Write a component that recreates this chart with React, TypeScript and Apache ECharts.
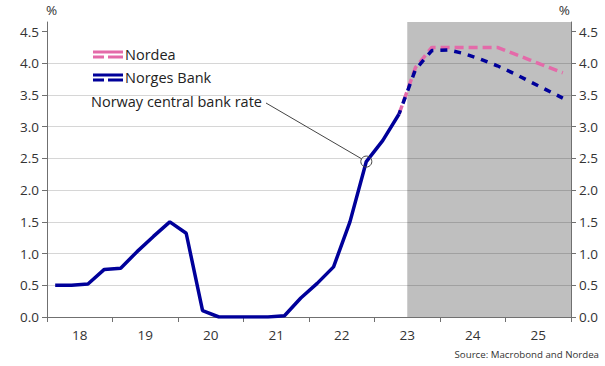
import React, { useEffect, useRef } from "react";
import * as echarts from "echarts";

const histQuarters = [
  "2018Q1", "2018Q2", "2018Q3", "2018Q4",
  "2019Q1", "2019Q2", "2019Q3", "2019Q4",
  "2020Q1", "2020Q2", "2020Q3", "2020Q4",
  "2021Q1", "2021Q2", "2021Q3", "2021Q4",
  "2022Q1", "2022Q2", "2022Q3", "2022Q4",
  "2023Q1", "2023Q2",
];
const centralBankRate = [
  0.5, 0.5, 0.52, 0.75,
  0.77, 1.03, 1.27, 1.5,
  1.32, 0.1, 0.0, 0.0,
  0.0, 0.0, 0.02, 0.3,
  0.53, 0.79, 1.5, 2.45,
  2.78, 3.2,
];

const forecastQuarters = [
  "2023Q2", "2023Q3", "2023Q4",
  "2024Q1", "2024Q2", "2024Q3", "2024Q4",
  "2025Q1", "2025Q2", "2025Q3", "2025Q4",
];
const nordea = [3.2, 3.93, 4.25, 4.25, 4.25, 4.25, 4.25, 4.15, 4.05, 3.95, 3.85];
const norgesBank = [3.2, 3.9, 4.2, 4.21, 4.15, 4.06, 3.96, 3.84, 3.71, 3.58, 3.45];

const yearTicks = [2018, 2019, 2020, 2021, 2022, 2023, 2024, 2025, 2026];
const yearLabels = ["18", "19", "20", "21", "22", "23", "24", "25"];
const yTicks = [0, 0.5, 1.0, 1.5, 2.0, 2.5, 3.0, 3.5, 4.0, 4.5];
const forecastStart = 2023.5;
const annotatedQuarter = "2022Q4";

const FONT = "'Open Sans', 'Noto Sans', sans-serif";
const BLUE = "#00009a";
const PINK = "#e46aa9";
const AXIS = "#707070";
const TEXT = "#333333";

const qToX = (q: string) => parseInt(q.slice(0, 4), 10) + (parseInt(q.slice(5), 10) - 0.5) / 4;

export default function App() {
  const ref = useRef<HTMLDivElement>(null);

  useEffect(() => {
    document.body.style.margin = "0";
    if (!ref.current) return;
    const chart = echarts.init(ref.current, undefined, { renderer: "svg" });

    const hist = histQuarters.map((q, i) => [qToX(q), centralBankRate[i]]);
    const nd = forecastQuarters.map((q, i) => [qToX(q), nordea[i]]);
    const nb = forecastQuarters.map((q, i) => [qToX(q), norgesBank[i]]);
    const labelValues = yearLabels.map((_, i) => yearTicks[i] + 0.5);

    const yAxisBase = {
      type: "value",
      min: 0,
      max: 4.65,
      interval: 0.5,
      axisLine: { show: true, lineStyle: { color: AXIS, width: 1 } },
      axisTick: { show: true, length: 5, customValues: yTicks, lineStyle: { color: AXIS } },
      axisLabel: {
        customValues: yTicks,
        formatter: (v: number) => v.toFixed(1),
        color: TEXT,
        fontSize: 13.5,
        fontFamily: FONT,
        margin: 8,
      },
    };

    const legendIcon = "path://M0,0H30V3H0Z M0,5H11V8H0Z M15,5H30V8H15Z";

    chart.setOption({
      animation: false,
      backgroundColor: "#ffffff",
      grid: { left: 47, right: 34, top: 22, bottom: 49, containLabel: false },
      xAxis: {
        type: "value",
        min: 2018,
        max: 2026,
        interval: 1,
        axisLine: { show: true, onZero: true, lineStyle: { color: AXIS, width: 1 } },
        axisTick: { show: true, length: 5, customValues: yearTicks, lineStyle: { color: AXIS } },
        axisLabel: {
          customValues: labelValues,
          formatter: (v: number) => yearLabels[Math.floor(v) - 2018] ?? "",
          color: TEXT,
          fontSize: 13.5,
          fontFamily: FONT,
          margin: 11,
        },
        splitLine: { show: false },
      },
      yAxis: [
        {
          ...yAxisBase,
          position: "left",
          splitLine: { show: true, showMaxLine: false, lineStyle: { color: "#d6d6d6", width: 1 } },
        },
        {
          ...yAxisBase,
          position: "right",
          splitLine: { show: false },
        },
      ],
      legend: {
        data: ["Nordea", "Norges Bank"],
        orient: "vertical",
        left: 88,
        top: 42,
        itemWidth: 30,
        itemHeight: 8,
        itemGap: 8,
        icon: legendIcon,
        itemStyle: { borderWidth: 0 },
        textStyle: { color: "#222", fontSize: 14.5, fontFamily: FONT, padding: [0, 0, 0, -3] },
        selectedMode: false,
      },
      series: [
        {
          name: "Norway central bank rate",
          type: "line",
          data: hist,
          symbol: "none",
          lineStyle: { color: BLUE, width: 3.5 },
          itemStyle: { color: BLUE },
          z: 3,
          markArea: {
            silent: true,
            itemStyle: { color: "rgba(0,0,0,0.25)" },
            data: [[{ xAxis: forecastStart }, { xAxis: 2026 }]],
          },
        },
        {
          name: "Nordea",
          type: "line",
          data: nd,
          symbol: "none",
          lineStyle: { color: PINK, width: 3.5, type: [9, 5] },
          itemStyle: { color: PINK },
          z: 4,
        },
        {
          name: "Norges Bank",
          type: "line",
          data: nb,
          symbol: "none",
          lineStyle: { color: BLUE, width: 3.5, type: [7, 7], dashOffset: 3 },
          itemStyle: { color: BLUE },
          z: 5,
        },
      ],
    });

    const idx = histQuarters.indexOf(annotatedQuarter);
    const p = chart.convertToPixel({ xAxisIndex: 0, yAxisIndex: 0 }, [qToX(annotatedQuarter), centralBankRate[idx]]) as number[];
    const r = 5.5;
    const sx = 266, sy = 103;
    const dx = p[0] - sx, dy = p[1] - sy;
    const len = Math.sqrt(dx * dx + dy * dy);
    const ex = p[0] - (dx / len) * r, ey = p[1] - (dy / len) * r;

    chart.setOption({
      graphic: [
        {
          type: "text",
          left: 91,
          top: 94,
          style: { text: "Norway central bank rate", fill: "#222", fontSize: 14.5, fontFamily: FONT },
          z: 10,
        },
        {
          type: "line",
          shape: { x1: sx, y1: sy, x2: ex, y2: ey },
          style: { stroke: "#444", lineWidth: 1 },
          z: 10,
        },
        {
          type: "circle",
          shape: { cx: p[0], cy: p[1], r },
          style: { fill: "none", stroke: "#444", lineWidth: 1 },
          z: 10,
        },
        {
          type: "text",
          left: 46,
          top: 3,
          style: { text: "%", fill: TEXT, fontSize: 13.5, fontFamily: FONT },
        },
        {
          type: "text",
          right: 35,
          top: 3,
          style: { text: "%", fill: TEXT, fontSize: 13.5, fontFamily: FONT },
        },
        {
          type: "text",
          right: 6,
          top: 349,
          style: { text: "Source: Macrobond and Nordea", fill: TEXT, fontSize: 9.7, fontFamily: FONT },
        },
      ],
    });

    return () => chart.dispose();
  }, []);

  return <div ref={ref} style={{ width: 605, height: 366 }} />;
}
